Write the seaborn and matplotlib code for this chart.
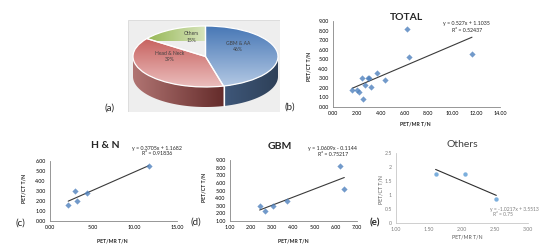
import numpy as np
import matplotlib
matplotlib.use("Agg")
import matplotlib.pyplot as plt
import matplotlib.transforms as mtransforms
import matplotlib.colors as mcolors
from matplotlib.patches import Polygon, Rectangle
from matplotlib.ticker import FormatStrFormatter, FuncFormatter
import seaborn as sns
import pandas as pd

# ---------------- data ----------------
pie_categories = ["GBM & AA", "Head & Neck", "Others"]
pie_shares = [46, 39, 15]

hn_mr = [2.15, 2.95, 3.2, 4.4, 11.65]
hn_ct = [1.6, 3.0, 2.05, 2.85, 5.5]
gbm_mr = [2.4, 2.65, 3.05, 3.7, 6.2, 6.4]
gbm_ct = [3.0, 2.3, 3.0, 3.6, 8.2, 5.2]
oth_mr = [1.6, 2.05, 2.52]
oth_ct = [1.76, 1.76, 0.84]

eq_total = ["y = 0.527x + 1.1035", "R² = 0.52437"]
eq_hn = ["y = 0.3705x + 1.1682", "R² = 0.91836"]
eq_gbm = ["y = 1.0609x - 0.1144", "R² = 0.75217"]
eq_oth = ["y = -1.0217x + 3.5513", "R² = 0.75"]

total_xticks = [0, 2, 4, 6, 8, 10, 12, 14]
total_yticks = [0, 1, 2, 3, 4, 5, 6, 7, 8, 9]
hn_xticks = [0, 5, 10, 15]
hn_yticks = [0, 1, 2, 3, 4, 5, 6]
gbm_xticks = [1, 2, 3, 4, 5, 6, 7]
gbm_yticks = [1, 2, 3, 4, 5, 6, 7, 8, 9]
oth_xticks = [1.0, 1.5, 2.0, 2.5, 3.0]
oth_yticks = [0, 0.5, 1, 1.5, 2, 2.5]

# ---------------- style ----------------
sns.set_style("white")
plt.rcParams['font.family'] = ['Lato', 'DejaVu Sans']

W, H = 547, 247
fig = plt.figure(figsize=(W / 100, H / 100), dpi=100)
fig.patch.set_facecolor('white')
T = mtransforms.Affine2D().scale(1 / W, -1 / H).translate(0, 1) + fig.transFigure


def rect(x0, y0, x1, y1):
    return [x0 / W, 1 - y1 / H, (x1 - x0) / W, (y1 - y0) / H]


def ftext(x, y, s, **kw):
    kw.setdefault('ha', 'center')
    kw.setdefault('va', 'center')
    return fig.text(x, y, s, transform=T, **kw)


# ---------------- (a) 3D pie ----------------
pax = fig.add_axes(rect(128, 20, 280, 112))
cx, cy, a, b = 205.5, 56.5, 72.5, 30.5
depth = 20 / b

wedges, _ = pax.pie(pie_shares, startangle=90, counterclock=False, radius=1,
                    center=(0, 0), frame=False,
                    wedgeprops=dict(edgecolor='white', linewidth=0.9))
pax.set_aspect('auto')

top_grad = [('#4878B6', '#B4C9E4', 'v', (-1, 1, -1, 1)),
            ('#BE4B48', '#EBBDBC', 'v', (-1, 1, -1, 1)),
            ('#93B550', '#DCE8C4', 'h', (-0.85, 0.05, 0.5, 1.0))]
side_grad = [('#3E5779', '#2E4058'),
             ('#B07472', '#652C2B'),
             ('#7E9A45', '#5E7533')]


def grad_img(c_from, c_to, direction):
    t = np.linspace(0, 1, 64)
    c0 = np.array(mcolors.to_rgb(c_from))
    c1 = np.array(mcolors.to_rgb(c_to))
    cols = c0[None, :] * (1 - t[:, None]) + c1[None, :] * t[:, None]
    if direction == 'v':
        return np.repeat(cols[:, None, :], 2, axis=1)
    return np.repeat(cols[None, :, :], 2, axis=0)


for w, (c0, c1, d, ext) in zip(wedges, top_grad):
    w.set_zorder(4)
    w.set_facecolor('none')
    im = pax.imshow(grad_img(c0, c1, d), extent=ext, origin='upper',
                    aspect='auto', zorder=3, interpolation='bilinear')
    im.set_clip_path(w)

cum = np.cumsum([0] + pie_shares) / sum(pie_shares)
for i in range(len(pie_shares)):
    th0 = 90 - 360 * cum[i]
    th1 = 90 - 360 * cum[i + 1]
    lo, hi = max(th1, -180), min(th0, 0)
    if lo >= hi:
        continue
    th = np.radians(np.linspace(lo, hi, 80))
    top = np.c_[np.cos(th), np.sin(th)]
    bot = np.c_[np.cos(th)[::-1], np.sin(th)[::-1] - depth]
    poly = Polygon(np.vstack([top, bot]), closed=True, facecolor='none',
                   edgecolor='none', zorder=2)
    pax.add_patch(poly)
    im = pax.imshow(grad_img(side_grad[i][0], side_grad[i][1], 'h'),
                    extent=(np.cos(th).min(), np.cos(th).max(), -1 - depth, 0),
                    origin='upper', aspect='auto', zorder=1.5,
                    interpolation='bilinear')
    im.set_clip_path(poly)

for c in cum[1:-1]:
    th = np.radians(90 - 360 * c)
    if np.sin(th) < 0:
        pax.plot([np.cos(th), np.cos(th)], [np.sin(th), np.sin(th) - depth],
                 color='white', lw=0.9, zorder=5)

pax.set_xlim((128 - cx) / a, (280 - cx) / a)
pax.set_ylim((cy - 112) / b, (cy - 20) / b)
pax.add_patch(Rectangle((0, 0), 1, 1, transform=pax.transAxes,
                        facecolor='#EEEEEE', edgecolor='#D9D9D9', lw=0.6,
                        zorder=0))

label_pos = [(0.45, 0.33), (-0.49, 0.0), (-0.19, 0.64)]
for cat, sh, (lx, ly) in zip(pie_categories, pie_shares, label_pos):
    pax.text(lx, ly, f"{cat}\n{sh}%", ha='center', va='center', fontsize=3.6,
             color='#3F3F3F', zorder=6, linespacing=1.3)

ftext(110, 108, "(a)", fontsize=7)

# ---------------- scatter panels ----------------
AX_COL = '#868686'


def style_axes(ax, xticks, yticks, xfmt, yfmt, tick_color='#000000', axcol=AX_COL):
    ax.set_xticks(xticks)
    ax.set_yticks(yticks)
    ax.xaxis.set_major_formatter(xfmt)
    ax.yaxis.set_major_formatter(yfmt)
    ax.set_xlim(xticks[0], xticks[-1])
    ax.set_ylim(yticks[0], yticks[-1])
    for s in ['top', 'right']:
        ax.spines[s].set_visible(False)
    for s in ['left', 'bottom']:
        ax.spines[s].set_color(axcol)
        ax.spines[s].set_linewidth(0.6)
    ax.tick_params(axis='both', labelsize=3.8, length=1.6, width=0.5,
                   pad=1.5, color=axcol, labelcolor=tick_color, direction='out')
    ax.set_facecolor('none')
    ax.grid(False)


def panel(rect_px, xs, ys, xticks, yticks, xfmt, yfmt, marker, mcolor,
          lcolor, tick_color, axcol):
    ax = fig.add_axes(rect(*rect_px))
    df = pd.DataFrame({'mr': xs, 'ct': ys})
    sns.regplot(data=df, x='mr', y='ct', ax=ax, ci=None, truncate=True,
                marker=marker,
                scatter_kws=dict(s=10, color=mcolor, linewidths=0, zorder=3),
                line_kws=dict(color=lcolor, lw=0.8, zorder=2))
    style_axes(ax, xticks, yticks, xfmt, yfmt, tick_color, axcol)
    ax.set_xlabel('')
    ax.set_ylabel('')
    return ax


f2 = FormatStrFormatter('%.2f')
fg = FuncFormatter(lambda v, p: f"{v:g}")

# (b) TOTAL
tot_mr = hn_mr + gbm_mr + oth_mr
tot_ct = hn_ct + gbm_ct + oth_ct
axb = panel((333, 21, 500, 107), tot_mr, tot_ct, total_xticks, total_yticks,
            f2, f2, 'D', '#4F81BD', '#3A3A3A', '#000000', AX_COL)
ftext(407, 17, "TOTAL", fontsize=7.5, fontweight='bold')
ftext(466, 24, eq_total[0], fontsize=3.8)
ftext(467, 31, eq_total[1], fontsize=3.8)
ftext(309, 66, "PET/CT T/N", fontsize=3.8, fontweight='bold', rotation=90)
ftext(415, 124, "PET/MR T/N", fontsize=3.8, fontweight='bold')
ftext(290, 107, "(b)", fontsize=7)

# (c) H & N
axc = panel((50, 161, 177, 221), hn_mr, hn_ct, hn_xticks, hn_yticks,
            f2, f2, 'D', '#4F81BD', '#3A3A3A', '#000000', AX_COL)
ftext(105, 145, "H & N", fontsize=7.5, fontweight='bold')
ftext(157, 148, eq_hn[0], fontsize=3.8)
ftext(157, 153.5, eq_hn[1], fontsize=3.8)
ftext(24, 188, "PET/CT T/N", fontsize=3.8, fontweight='bold', rotation=90)
ftext(112, 241, "PET/MR T/N", fontsize=3.8, fontweight='bold')
ftext(20, 223, "(c)", fontsize=7)

# (d) GBM
axd = panel((230, 160, 357, 221), gbm_mr, gbm_ct, gbm_xticks, gbm_yticks,
            f2, f2, 'D', '#4F81BD', '#3A3A3A', '#000000', AX_COL)
ftext(280, 146, "GBM", fontsize=7.5, fontweight='bold')
ftext(333, 148, eq_gbm[0], fontsize=3.8)
ftext(333, 154, eq_gbm[1], fontsize=3.8)
ftext(204, 187, "PET/CT T/N", fontsize=3.8, fontweight='bold', rotation=90)
ftext(293, 241, "PET/MR T/N", fontsize=3.8, fontweight='bold')
ftext(196, 222, "(d)", fontsize=7)

# (e) Others
axe = panel((396, 153, 528, 223), oth_mr, oth_ct, oth_xticks, oth_yticks,
            f2, fg, 'o', '#5B9BD5', '#2E2E2E', '#7F7F7F', '#C8C8C8')
ftext(462, 144, "Others", fontsize=7.5, color='#404040')
ftext(490, 209, eq_oth[0], fontsize=3.6, color='#7F7F7F', ha='left')
ftext(493, 214.5, eq_oth[1], fontsize=3.6, color='#7F7F7F', ha='left')
ftext(381, 190, "PET/CT T/N", fontsize=3.8, color='#595959', rotation=90)
ftext(467, 237, "PET/MR T/N", fontsize=3.8, color='#595959')
ftext(375, 223, "(e)", fontsize=7, fontweight='bold')

fig.savefig("out.png", dpi=100)
